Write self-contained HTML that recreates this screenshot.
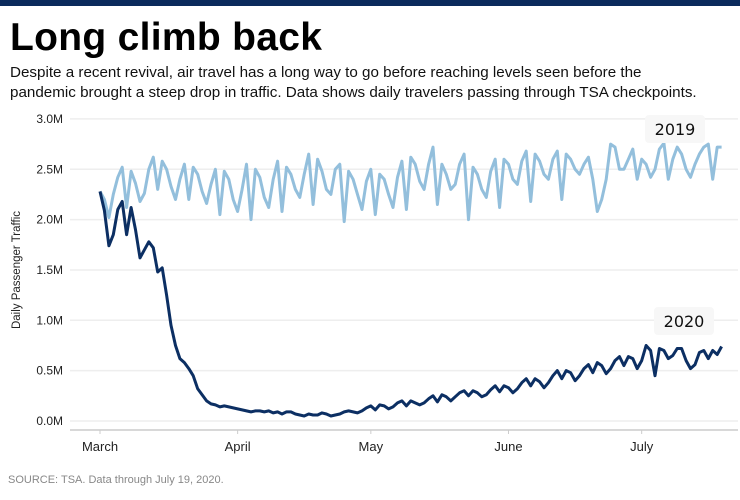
<!DOCTYPE html>
<html><head><meta charset="utf-8"><style>
body{margin:0;width:740px;height:500px;background:#fff;font-family:"Liberation Sans",sans-serif;overflow:hidden;position:relative}
#bar{position:absolute;left:0;top:0;width:740px;height:6px;background:#0b2a5c}
h1{position:absolute;left:10px;top:16px;margin:0;font-size:39px;font-weight:bold;color:#000;letter-spacing:0.3px}
#sub{position:absolute;left:10px;top:63px;width:730px;font-size:15.2px;line-height:20px;color:#111;white-space:nowrap}
#src{position:absolute;left:8px;top:474px;font-size:11px;color:#888}
svg{position:absolute;left:0;top:0}
</style></head><body>
<div id="bar"></div>
<h1>Long climb back</h1>
<div id="sub">Despite a recent revival, air travel has a long way to go before reaching levels seen before the<br>pandemic brought a steep drop in traffic. Data shows daily travelers passing through TSA checkpoints.</div>
<svg id="chart" width="740" height="500"></svg>
<div id="src">SOURCE: TSA. Data through July 19, 2020.</div>
<script>
const yTicks=[0,0.5,1.0,1.5,2.0,2.5,3.0];
const yTickLabels=["0.0M","0.5M","1.0M","1.5M","2.0M","2.5M","3.0M"];
const monthLabels=["March","April","May","June","July"];
const monthStartDays=[0,31,61,92,122];
const series2019=[2.28,2.20,2.02,2.25,2.42,2.52,2.12,
2.48,2.36,2.18,2.26,2.50,2.62,2.30,
2.58,2.50,2.33,2.20,2.40,2.55,2.20,
2.52,2.45,2.28,2.16,2.35,2.50,2.05,
2.48,2.40,2.20,2.08,2.30,2.55,2.00,
2.50,2.42,2.22,2.12,2.40,2.58,2.08,
2.52,2.45,2.30,2.22,2.45,2.65,2.15,
2.60,2.48,2.30,2.25,2.50,2.55,1.98,
2.48,2.40,2.25,2.10,2.38,2.50,2.05,
2.45,2.40,2.25,2.12,2.42,2.58,2.10,
2.62,2.55,2.38,2.30,2.55,2.72,2.15,
2.55,2.45,2.30,2.35,2.55,2.65,2.00,
2.52,2.45,2.30,2.22,2.48,2.60,2.12,
2.60,2.55,2.40,2.35,2.58,2.68,2.18,
2.65,2.58,2.45,2.40,2.60,2.68,2.20,
2.65,2.60,2.50,2.45,2.55,2.62,2.40,
2.08,2.20,2.40,2.75,2.72,2.50,2.50,
2.60,2.70,2.40,2.60,2.55,2.42,2.50,
2.70,2.76,2.40,2.60,2.72,2.65,2.50,
2.42,2.55,2.65,2.72,2.75,2.40,2.72,
2.72];
const series2020=[2.28,2.09,1.74,1.85,2.10,2.18,1.85,
2.12,1.90,1.62,1.70,1.78,1.72,1.48,
1.52,1.25,0.95,0.75,0.62,0.58,0.52,
0.45,0.32,0.26,0.20,0.17,0.16,0.14,
0.15,0.14,0.13,0.12,0.11,0.10,0.09,
0.10,0.10,0.09,0.10,0.08,0.09,0.07,
0.09,0.09,0.07,0.06,0.05,0.07,0.06,
0.06,0.08,0.07,0.05,0.06,0.07,0.09,
0.10,0.09,0.08,0.10,0.13,0.15,0.11,
0.16,0.15,0.12,0.14,0.18,0.20,0.15,
0.20,0.18,0.16,0.18,0.22,0.25,0.19,
0.26,0.24,0.20,0.24,0.28,0.30,0.25,
0.30,0.28,0.24,0.26,0.31,0.35,0.29,
0.35,0.33,0.28,0.32,0.38,0.42,0.35,
0.42,0.39,0.33,0.38,0.45,0.50,0.42,
0.50,0.48,0.40,0.45,0.52,0.56,0.48,
0.58,0.55,0.47,0.52,0.60,0.64,0.55,
0.64,0.62,0.52,0.60,0.75,0.70,0.45,
0.72,0.70,0.62,0.65,0.72,0.72,0.60,
0.52,0.56,0.68,0.70,0.62,0.70,0.66,
0.74];
const NS="http://www.w3.org/2000/svg";
const svg=document.getElementById('chart');
const x=d=>100+d*4.44;
const y=v=>421-v*100.7;
function mk(tag,attrs){const e=document.createElementNS(NS,tag);for(const k in attrs)e.setAttribute(k,attrs[k]);svg.appendChild(e);return e;}
yTicks.forEach((t,i)=>{
  const g=mk('line',{x1:70,x2:738,y1:y(t),y2:y(t),stroke:'#eeeeee','stroke-width':1.5});
  
  
  const tx=mk('text',{x:63,y:y(t)+4,'text-anchor':'end','font-size':12,fill:'#222','font-family':'Liberation Sans'});
  tx.textContent=yTickLabels[i];
  
  
});
const ax=mk('line',{x1:70,x2:738,y1:430,y2:430,stroke:'#cccccc','stroke-width':1.5});


monthLabels.forEach((m,i)=>{
  const tk=mk('line',{x1:x(monthStartDays[i]),x2:x(monthStartDays[i]),y1:430,y2:434,stroke:'#ccc'});
  
  
  const tx=mk('text',{x:x(monthStartDays[i]),y:451,'text-anchor':'middle','font-size':13,fill:'#222','font-family':'Liberation Sans'});
  tx.textContent=m;
  
  
});
const yt=mk('text',{x:0,y:0,transform:'translate(20,270) rotate(-90)','text-anchor':'middle','font-size':11.5,fill:'#222','font-family':'Liberation Sans'});
yt.textContent='Daily Passenger Traffic';


function line(data,color,name){
  const p=mk('path',{d:data.map((v,i)=>(i?'L':'M')+x(i).toFixed(1)+','+y(v).toFixed(1)).join(''),fill:'none',stroke:color,'stroke-width':3,'stroke-linejoin':'round'});
  
  
}
line(series2019,'#93bfdc','line-2019');
line(series2020,'#0c2f63','line-2020');
function label(txt,cx,cy,name){
  const r=mk('rect',{x:cx-30,y:cy-14,width:60,height:28,rx:4,fill:'#f7f7f7'});
  
  
  const t=mk('text',{x:cx,y:cy+6,'text-anchor':'middle','font-size':16,fill:'#111','font-family':'DejaVu Sans'});
  t.textContent=txt;
  
  
}
label('2019',675,129,'label-2019');
label('2020',684,321,'label-2020');
</script>
</body></html>
